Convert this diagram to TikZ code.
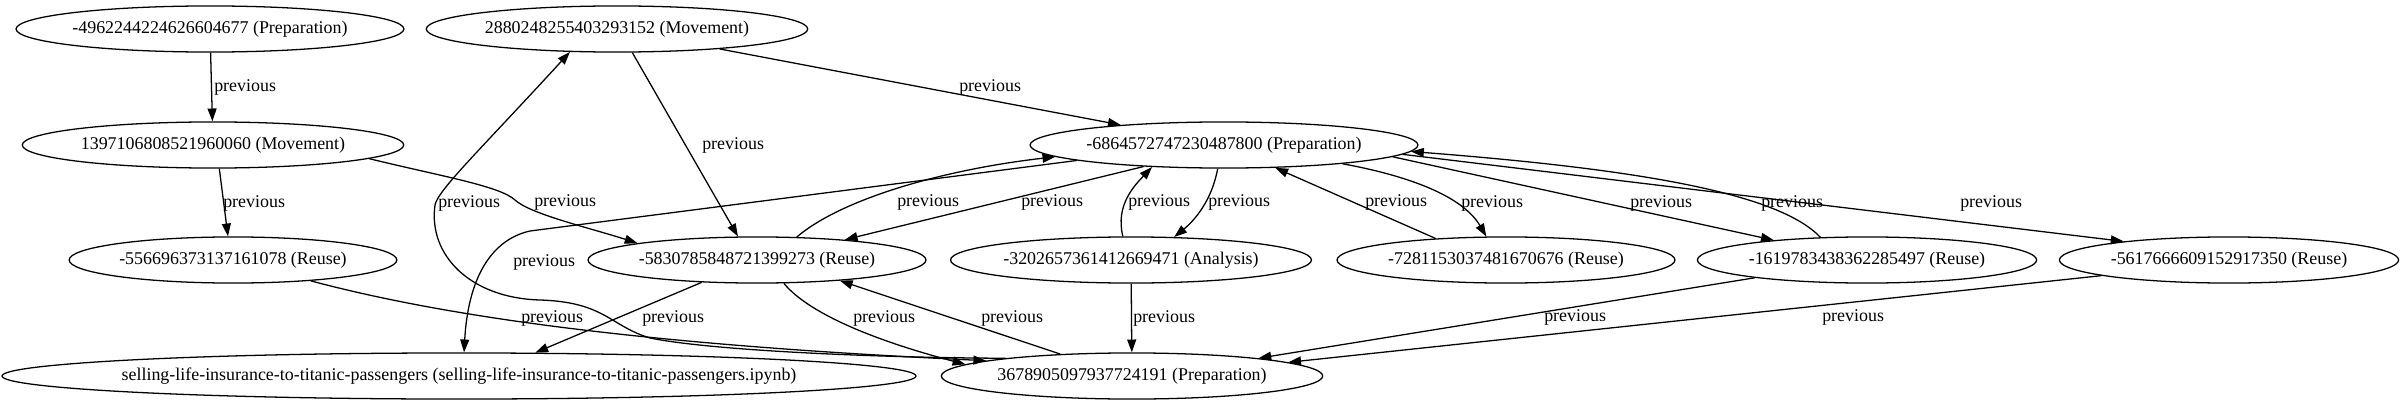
\documentclass[tikz,border=0pt]{standalone}
\usepackage{fontspec}
\setmainfont{Liberation Serif}
\usetikzlibrary{shapes.geometric,arrows.meta}
\newcommand{\zw}[1]{\makebox[0pt]{#1}}
\begin{document}
\begin{tikzpicture}[x=0.78125pt, y=-0.78125pt,
  nd/.style={ellipse, draw, line width=1pt, inner sep=0pt, minimum height=36pt, font=\fontsize{14}{16}\selectfont},
  lbl/.style={anchor=west, inner sep=0pt, font=\fontsize{14}{16}\selectfont},
  ed/.style={line width=1pt, -{Triangle[length=10pt,width=7pt]}}]
\useasboundingbox (0,0) rectangle (2403,407);
% nodes
\node[nd, minimum width=303pt] (A) at (210,29) {\zw{-4962244224626604677 (Preparation)}};
\node[nd, minimum width=298pt] (B) at (617,29) {\zw{2880248255403293152 (Movement)}};
\node[nd, minimum width=298pt] (C) at (213,145) {\zw{1397106808521960060 (Movement)}};
\node[nd, minimum width=303pt] (G) at (1224,145) {\zw{-6864572747230487800 (Preparation)}};
\node[nd, minimum width=256pt] (D) at (233,260) {\zw{-556696373137161078 (Reuse)}};
\node[nd, minimum width=264pt] (F) at (757,260) {\zw{-5830785848721399273 (Reuse)}};
\node[nd, minimum width=282pt] (H) at (1131,260) {\zw{-3202657361412669471 (Analysis)}};
\node[nd, minimum width=264pt] (J) at (1506,260) {\zw{-7281153037481670676 (Reuse)}};
\node[nd, minimum width=265pt] (K) at (1867,260) {\zw{-1619783438362285497 (Reuse)}};
\node[nd, minimum width=265pt] (L) at (2229,260) {\zw{-5617666609152917350 (Reuse)}};
\node[nd, minimum width=714pt] (E) at (459,376) {\zw{selling-life-insurance-to-titanic-passengers (selling-life-insurance-to-titanic-passengers.ipynb)}};
\node[nd, minimum width=298pt] (I) at (1132,376) {\zw{3678905097937724191 (Preparation)}};
% edges
\draw[ed] (A) -- (C);
\draw[ed] (C.-75) -- (D.102);
\draw[ed] (C.-5) .. controls (440,176) and (500,186) .. (515,200) .. controls (530,214) and (590,228) .. (F.172);
\draw[ed] (B.-57) -- (F.129);
\draw[ed] (B.-11) -- (G.169);
\draw[ed] (I.172) .. controls (900,358) and (720,352) .. (650,338) .. controls (610,326) and (605,302) .. (540,300) .. controls (470,298) and (428,255) .. (435,205) .. controls (438,190) and (480,150) .. (B.206);
\draw[ed] (G.186) -- (530,231) .. controls (490,240) and (468,280) .. (E.78);
\draw[ed] (F.30) .. controls (840,200) and (940,170) .. (G.184);
\draw[ed] (G.195) -- (F.13.5);
\draw[ed] (H.109) .. controls (1115,205) and (1135,185) .. (G.197);
\draw[ed] (G.255) .. controls (1212,200) and (1195,220) .. (H.28);
\draw[ed] (J.163) -- (G.-24);
\draw[ed] (G.-9) .. controls (1420,178) and (1465,200) .. (J.130);
\draw[ed] (G.-4) -- (K.168.5);
\draw[ed] (K.154) .. controls (1780,195) and (1650,170) .. (G.-2);
\draw[ed] (G.-3) -- (L.170.4);
\draw[ed] (D.-15) .. controls (450,318) and (650,345) .. (I.174);
\draw[ed] (F.202) -- (E.17.5);
\draw[ed] (F.-41) .. controls (810,315) and (880,342) .. (I.176);
\draw[ed] (I.163) -- (F.-14);
\draw[ed] (H) -- (I);
\draw[ed] (K.189) -- (I.8.4);
\draw[ed] (L.187.5) -- (I.5.2);
% labels
\node[lbl] (l1) at (214,87) {previous};
\node[lbl] (l2) at (223,203) {previous};
\node[lbl] (l3) at (534,202) {previous};
\node[lbl] (l4) at (702,145) {previous};
\node[lbl] (l5) at (959,87) {previous};
\node[lbl] (l6) at (438,203) {previous};
\node[lbl] (l7) at (513,262) {previous};
\node[lbl] (l8) at (897,202) {previous};
\node[lbl] (l9) at (1021,202) {previous};
\node[lbl] (l10) at (1128,202) {previous};
\node[lbl] (l11) at (1208,202) {previous};
\node[lbl] (l12) at (1365,202) {previous};
\node[lbl] (l13) at (1461,203) {previous};
\node[lbl] (l14) at (1630,203) {previous};
\node[lbl] (l15) at (1761,203) {previous};
\node[lbl] (l16) at (1960,203) {previous};
\node[lbl] (l17) at (521,318) {previous};
\node[lbl] (l18) at (642,318) {previous};
\node[lbl] (l19) at (853,318) {previous};
\node[lbl] (l20) at (981,318) {previous};
\node[lbl] (l21) at (1133,318) {previous};
\node[lbl] (l22) at (1544,317) {previous};
\node[lbl] (l23) at (1822,317) {previous};
\end{tikzpicture}
\end{document}
